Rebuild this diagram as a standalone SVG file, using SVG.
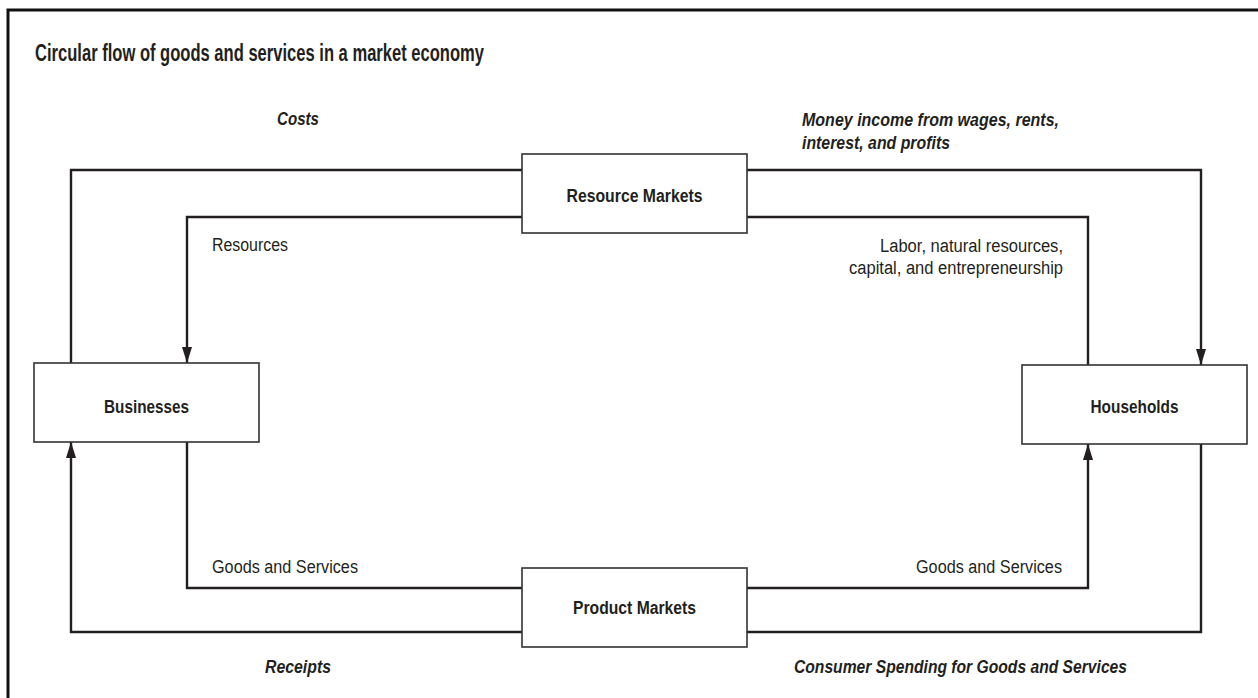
<svg xmlns="http://www.w3.org/2000/svg" width="1258" height="698" viewBox="0 0 1258 698">
<style>
.frame{fill:none;stroke:#111;stroke-width:3}
.box{fill:#fff;stroke:#333;stroke-width:1.6}
.conn{fill:none;stroke:#231f20;stroke-width:2.4}
.title{font-family:"Liberation Sans",Arial,sans-serif;font-weight:bold;font-size:23px;fill:#231f20}
.node{font-family:"Liberation Sans",Arial,sans-serif;font-weight:bold;font-size:18px;fill:#231f20;text-anchor:middle}
.lab{font-family:"Liberation Sans",Arial,sans-serif;font-size:18px;fill:#231f20}
.flow{font-family:"Liberation Sans",Arial,sans-serif;font-weight:bold;font-style:italic;font-size:18px;fill:#231f20}
</style>
<defs>
<marker id="ah" markerUnits="userSpaceOnUse" markerWidth="16" markerHeight="10" viewBox="0 0 16 10" refX="16" refY="5" orient="auto">
<path d="M0,0 L16,5 L0,10 Z" fill="#231f20"/>
</marker>
</defs>
<rect width="1258" height="698" fill="#fff"/>
<path class="frame" d="M8,698 V10 H1258"/>
<text class="title" x="35" y="61" textLength="449" lengthAdjust="spacingAndGlyphs">Circular flow of goods and services in a market economy</text>

<g id="connectors">
<path class="conn" d="M71,363 V170 H522"/>
<path class="conn" d="M747,170 H1201 V365" marker-end="url(#ah)"/>
<path class="conn" d="M522,217 H187 V363" marker-end="url(#ah)"/>
<path class="conn" d="M1088,365 V217 H747"/>
<path class="conn" d="M187,442 V588 H522"/>
<path class="conn" d="M747,588 H1088 V444" marker-end="url(#ah)"/>
<path class="conn" d="M1201,444 V632 H747"/>
<path class="conn" d="M522,632 H71 V442" marker-end="url(#ah)"/>
</g>

<g id="labels">
<text class="flow" x="277" y="125" textLength="42" lengthAdjust="spacingAndGlyphs">Costs</text>
<text class="flow" x="802" y="126" textLength="257" lengthAdjust="spacingAndGlyphs">Money income from wages, rents,</text>
<text class="flow" x="802" y="149" textLength="148" lengthAdjust="spacingAndGlyphs">interest, and profits</text>
<text class="lab" x="212" y="251" textLength="76" lengthAdjust="spacingAndGlyphs">Resources</text>
<text class="lab" x="880" y="252" textLength="183" lengthAdjust="spacingAndGlyphs">Labor, natural resources,</text>
<text class="lab" x="849" y="274" textLength="214" lengthAdjust="spacingAndGlyphs">capital, and entrepreneurship</text>
<text class="lab" x="212" y="573" textLength="146" lengthAdjust="spacingAndGlyphs">Goods and Services</text>
<text class="lab" x="916" y="573" textLength="146" lengthAdjust="spacingAndGlyphs">Goods and Services</text>
<text class="flow" x="265" y="673" textLength="66" lengthAdjust="spacingAndGlyphs">Receipts</text>
<text class="flow" x="794" y="673" textLength="333" lengthAdjust="spacingAndGlyphs">Consumer Spending for Goods and Services</text>
</g>

<g id="resource-markets">
<rect class="box" x="522" y="154" width="225" height="79"/>
<text class="node" x="634.5" y="202" textLength="136" lengthAdjust="spacingAndGlyphs">Resource Markets</text>
</g>
<g id="product-markets">
<rect class="box" x="522" y="568" width="225" height="79"/>
<text class="node" x="634.5" y="614" textLength="123" lengthAdjust="spacingAndGlyphs">Product Markets</text>
</g>
<g id="businesses">
<rect class="box" x="34" y="363" width="225" height="79"/>
<text class="node" x="146.5" y="413" textLength="85" lengthAdjust="spacingAndGlyphs">Businesses</text>
</g>
<g id="households">
<rect class="box" x="1022" y="365" width="225" height="79"/>
<text class="node" x="1134.5" y="413" textLength="88" lengthAdjust="spacingAndGlyphs">Households</text>
</g>
</svg>
